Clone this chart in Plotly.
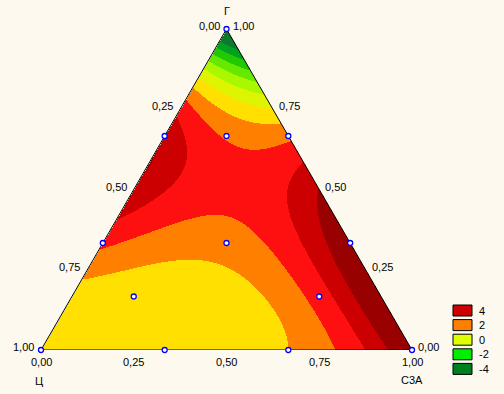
import numpy as np
import plotly.graph_objects as go

# ---- data: mixture design points (fractions of Г, Ц, С3А) and responses ----
g_pts = [1, 0, 0, 2/3, 1/3, 2/3, 1/3, 0, 0, 1/3, 2/3, 1/6, 1/6]
c_pts = [0, 1, 0, 1/3, 2/3, 0, 0, 2/3, 1/3, 1/3, 1/6, 2/3, 1/6]
s_pts = [0, 0, 1, 0, 0, 1/3, 2/3, 1/3, 2/3, 1/3, 1/6, 1/6, 2/3]
y_resp = [-6.3, 1.3, 6.3, 5.0, 3.0, 3.0, 6.1, 1.4, 2.0, 2.5, 2.5, 1.6, 3.6]

band_edges = [-5, -4, -3, -2, -1, 0, 1, 2, 3, 4, 5, 6, 7]
band_colors = ["#0B7A2B", "#00A020", "#22C800", "#66E800", "#AAF800", "#DDF500",
               "#FFE000", "#FF8000", "#FF1010", "#CC0000", "#990000", "#990000"]

legend_levels = [4, 2, 0, -2, -4]
legend_colors = ["#D00000", "#FF7F00", "#DDFF00", "#00EE00", "#007F1F"]

tick_values = [0, 0.25, 0.5, 0.75, 1.0]
tick_labels = ["0,00", "0,25", "0,50", "0,75", "1,00"]
title_top, title_left, title_right = "Г", "Ц", "С3А"

BG = "#FDF9EF"
H = np.sqrt(3) / 2


def to_xy(g, c, s):
    g = np.asarray(g, float); s = np.asarray(s, float)
    return s + g / 2, g * H


def terms(g, c, s):
    return np.stack([g, c, s, g * c, g * s, c * s,
                     g * c * (g - c), g * s * (g - s), c * s * (c - s), g * c * s], -1)


# full cubic mixture model fitted to the design responses
X = terms(np.array(g_pts), np.array(c_pts), np.array(s_pts))
coef, *_ = np.linalg.lstsq(X, np.array(y_resp), rcond=None)

nx, ny = 372, 322
xs = np.linspace(0, 1, nx)
ys = np.linspace(0, H, ny)
XX, YY = np.meshgrid(xs, ys)
G = YY / H
S = XX - G / 2
C = 1 - G - S
Z = terms(G, C, S) @ coef
inside = (G >= -1e-9) & (S >= -1e-9) & (C >= -1e-9)
Z = np.where(inside, Z, np.nan)

zmin, zmax = band_edges[0], band_edges[-1]
nb = len(band_colors)
cs = []
for i, col in enumerate(band_colors):
    cs.append([i / nb, col])
    cs.append([(i + 1) / nb, col])

fig = go.Figure()
fig.add_trace(go.Heatmap(x=xs, y=ys, z=np.round(Z, 3), zmin=zmin, zmax=zmax,
                         colorscale=cs, showscale=False, hoverinfo="skip"))

# triangle outline
tx, ty = to_xy([1, 0, 0, 1], [0, 1, 0, 0], [0, 0, 1, 0])
fig.add_trace(go.Scatter(x=tx, y=ty, mode="lines", line=dict(color="black", width=1),
                         hoverinfo="skip", cliponaxis=False))

# design points
px, py = to_xy(g_pts, c_pts, s_pts)
fig.add_trace(go.Scatter(x=px, y=py, mode="markers", cliponaxis=False, hoverinfo="skip",
                         marker=dict(symbol="circle", size=5, color="white",
                                     line=dict(color="#0000FF", width=1.3))))

font = dict(family="Liberation Sans, Arial, sans-serif", size=11, color="black")
ann = []
for v, lab in zip(tick_values, tick_labels):
    # bottom axis: С3А fraction
    x, y = to_xy(0, 1 - v, v)
    ann.append(dict(x=float(x), y=float(y), text=lab, xanchor="center", yanchor="middle",
                    yshift=-12, showarrow=False, font=font))
    # left axis: Ц fraction
    x, y = to_xy(1 - v, v, 0)
    ann.append(dict(x=float(x), y=float(y), text=lab, xanchor="right", yanchor="middle",
                    xshift=-5, yshift=3, showarrow=False, font=font))
    # right axis: Г fraction
    x, y = to_xy(v, 0, 1 - v)
    ann.append(dict(x=float(x), y=float(y), text=lab, xanchor="left", yanchor="middle",
                    xshift=4, yshift=3, showarrow=False, font=font))

x, y = to_xy(1, 0, 0)
ann.append(dict(x=float(x), y=float(y), text=title_top, xanchor="center", yanchor="middle",
                yshift=18, showarrow=False, font=font))
x, y = to_xy(0, 1, 0)
ann.append(dict(x=float(x), y=float(y), text=title_left, xanchor="center", yanchor="middle",
                yshift=-31, xshift=-2, showarrow=False, font=font))
x, y = to_xy(0, 0, 1)
ann.append(dict(x=float(x), y=float(y), text=title_right, xanchor="center", yanchor="middle",
                yshift=-30, showarrow=False, font=font))

# legend (drawn in pixel-like paper coordinates)
W, HT = 504, 394
l, r, t, b = 41, 92, 29, 44
pw, ph = W - l - r, HT - t - b
shapes = []
for i, (lev, col) in enumerate(zip(legend_levels, legend_colors)):
    yc = 310.5 + i * 14.6
    x0p, x1p = 453, 472
    y0p, y1p = yc - 5.5, yc + 5.5
    shapes.append(dict(type="rect", xref="paper", yref="paper",
                       x0=(x0p - l) / pw, x1=(x1p - l) / pw,
                       y0=(HT - b - y1p) / ph, y1=(HT - b - y0p) / ph,
                       fillcolor=col, line=dict(color="black", width=1)))
    ann.append(dict(xref="paper", yref="paper", x=(477 - l) / pw, y=(HT - b - yc) / ph,
                    text=str(lev), xanchor="left", yanchor="middle", showarrow=False, font=font))

fig.update_layout(width=W, height=HT, margin=dict(l=l, r=r, t=t, b=b, pad=0),
                  paper_bgcolor=BG, plot_bgcolor=BG, showlegend=False,
                  annotations=ann, shapes=shapes,
                  xaxis=dict(range=[0, 1], visible=False, fixedrange=True),
                  yaxis=dict(range=[0, H], visible=False, fixedrange=True))

fig.write_html("out.html", config={"displayModeBar": False},
               post_script="document.body.style.margin='0';document.body.style.background='" + BG + "';")
